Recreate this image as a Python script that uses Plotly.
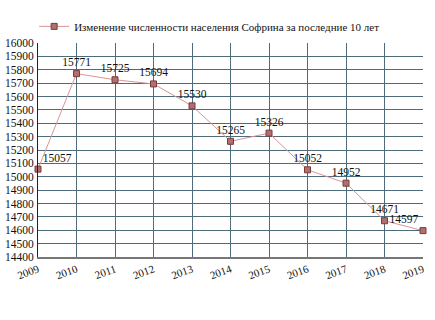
import plotly.graph_objects as go

years = [2009, 2010, 2011, 2012, 2013, 2014, 2015, 2016, 2017, 2018, 2019]
population = [15057, 15771, 15725, 15694, 15530, 15265, 15326, 15052, 14952, 14671, 14597]
y_ticks = list(range(14400, 16001, 100))
series_name = "Изменение численности населения Софрина за последние 10 лет"

positions = ["top right"] + ["top center"] * 9 + ["top left"]
serif = "Times New Roman"

fig = go.Figure()
fig.add_trace(go.Scatter(
    x=years, y=population, mode="lines+markers+text",
    name=series_name,
    line=dict(color="#d99494", width=1),
    marker=dict(symbol="square", size=6, color="#b07070", line=dict(color="#7a3a3a", width=1)),
    text=[str(v) for v in population],
    textposition=positions,
    textfont=dict(family=serif, size=11.5, color="#111"),
    cliponaxis=False,
))

fig.update_layout(
    width=435, height=320,
    margin=dict(l=38, r=12, t=38, b=63),
    paper_bgcolor="white", plot_bgcolor="white",
    font=dict(family=serif, size=11, color="#111"),
    showlegend=True,
    legend=dict(x=-0.01, y=1.01, xanchor="left", yanchor="bottom", orientation="h",
                font=dict(family=serif, size=11, color="#111"), bgcolor="rgba(0,0,0,0)"),
    xaxis=dict(range=[2009, 2019], tickmode="array", tickvals=years,
               ticktext=[str(y) for y in years], tickangle=-20,
               showgrid=True, gridcolor="#4e6b7b", gridwidth=1,
               showline=True, linecolor="#777", linewidth=2,
               ticks="", zeroline=False, automargin=False,
               tickfont=dict(family=serif, size=11)),
    yaxis=dict(range=[14400, 16000], tickmode="array", tickvals=y_ticks,
               ticktext=[str(v) for v in y_ticks],
               showgrid=True, gridcolor="#4e6b7b", gridwidth=1,
               showline=True, linecolor="#222", linewidth=1,
               ticks="", zeroline=False, ticklabelstandoff=1, automargin=False,
               tickfont=dict(family=serif, size=11.5)),
)

fig.write_html("out.html")
